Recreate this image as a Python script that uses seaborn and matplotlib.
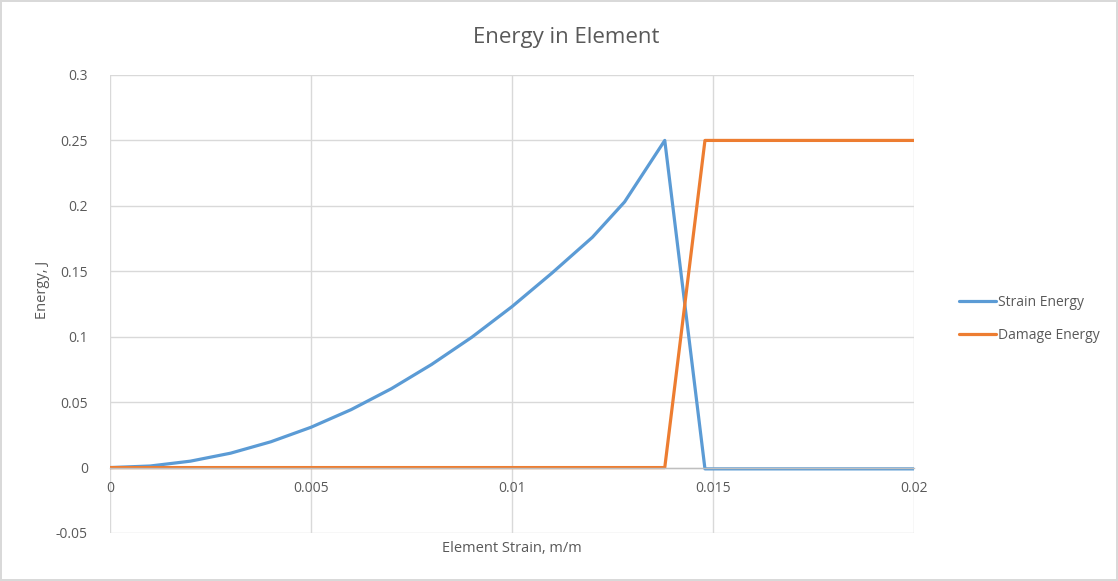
import matplotlib
matplotlib.use("Agg")
import matplotlib.pyplot as plt
import matplotlib.ticker as mticker
import seaborn as sns
import pandas as pd

# Element strain (m/m) sample points
strain = [0.0, 0.001, 0.002, 0.003, 0.004, 0.005, 0.006, 0.007, 0.008, 0.009,
          0.010, 0.011, 0.012, 0.0128, 0.0138, 0.0148, 0.020]
# Energies (J) at each strain point
strain_energy = [0.0, 0.0012, 0.0049, 0.0110, 0.0197, 0.0308, 0.0443, 0.0603,
                 0.0788, 0.0996, 0.1230, 0.1488, 0.1760, 0.2030, 0.2500, -0.001, -0.001]
damage_energy = [0.0, 0.0, 0.0, 0.0, 0.0, 0.0, 0.0, 0.0, 0.0, 0.0,
                 0.0, 0.0, 0.0, 0.0, 0.0, 0.2500, 0.2500]
series_names = ["Strain Energy", "Damage Energy"]
x_ticks = [0, 0.005, 0.01, 0.015, 0.02]
y_ticks = [-0.05, 0, 0.05, 0.1, 0.15, 0.2, 0.25, 0.3]

df = pd.concat([
    pd.DataFrame({"strain": strain, "energy": strain_energy, "series": series_names[0]}),
    pd.DataFrame({"strain": strain, "energy": damage_energy, "series": series_names[1]}),
], ignore_index=True)

sns.set_theme(style="white")
plt.rcParams["font.family"] = ["Open Sans", "DejaVu Sans"]
text_color = "#595959"

W, H = 1118, 581
fig = plt.figure(figsize=(W / 100, H / 100), dpi=100)
fig.patch.set_facecolor("white")
fig.patch.set_edgecolor("#d9d9d9")
fig.patch.set_linewidth(1.5)

ax = fig.add_axes([110 / W, (H - 533) / H, 804 / W, 458 / H])
sns.lineplot(data=df, x="strain", y="energy", hue="series",
             palette=["#5B9BD5", "#ED7D31"], linewidth=2.3, ax=ax,
             sort=False, estimator=None)

ax.set_xlim(0, 0.02)
ax.set_ylim(-0.05, 0.3)
ax.set_xticks(x_ticks)
ax.set_yticks(y_ticks)
fmt = mticker.FuncFormatter(lambda v, p: "%g" % round(v, 4))
ax.xaxis.set_major_formatter(fmt)
ax.yaxis.set_major_formatter(fmt)

ax.grid(True, color="#d9d9d9", linewidth=1.0)
ax.set_axisbelow(True)
for s in ["top", "right", "left"]:
    ax.spines[s].set_visible(False)
ax.spines["bottom"].set_position(("data", 0))
ax.spines["bottom"].set_color("#bfbfbf")
ax.spines["bottom"].set_linewidth(1.0)
ax.tick_params(axis="both", length=0, labelsize=10, colors=text_color)
ax.tick_params(axis="x", pad=10)
ax.tick_params(axis="y", pad=16)

ax.set_xlabel("")
ax.set_ylabel("")
fig.text(512 / W, 1 - 549 / H, "Element Strain, m/m", ha="center", va="center",
         fontsize=10.5, color=text_color)
fig.text(42 / W, 1 - 290 / H, "Energy, J", ha="center", va="center",
         rotation=90, fontsize=10.5, color=text_color)
fig.text(566 / W, 1 - 37 / H, "Energy in Element", ha="center", va="center",
         fontsize=16, color=text_color)

handles, labels = ax.get_legend_handles_labels()
ax.get_legend().remove()
leg = fig.legend(handles, labels, loc="center left",
                 bbox_to_anchor=(946 / W, 1 - 319 / H), frameon=False,
                 fontsize=10, handlelength=2.7, handletextpad=0.15,
                 labelspacing=1.25)
for t in leg.get_texts():
    t.set_color(text_color)

fig.savefig("out.png", dpi=100)
